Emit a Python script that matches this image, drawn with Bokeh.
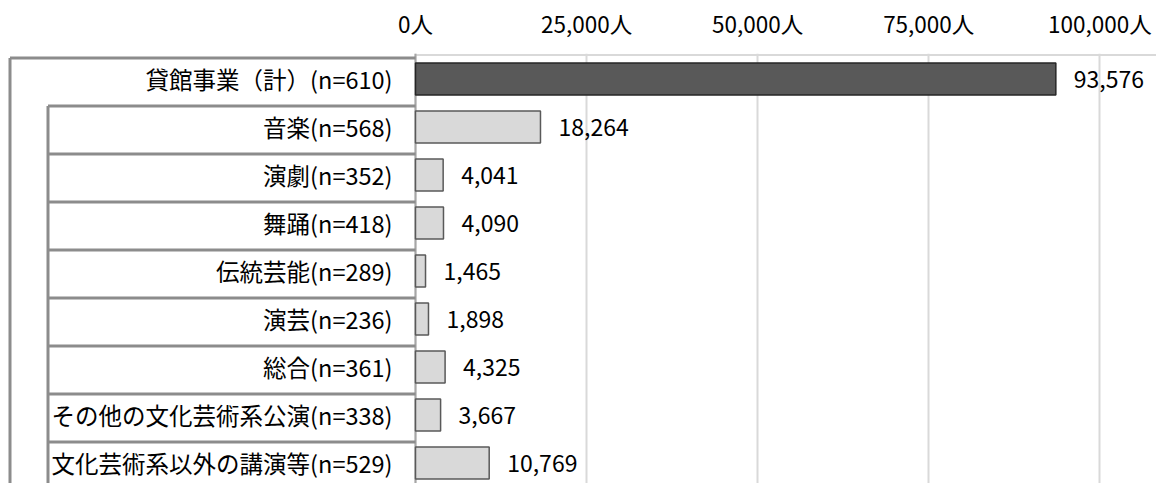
from bokeh.plotting import figure
from bokeh.models import ColumnDataSource, Range1d, FixedTicker
from bokeh.core.properties import value
from bokeh.embed import file_html
from bokeh.resources import INLINE

categories = [
    "貸館事業（計）(n=610)",
    "音楽(n=568)",
    "演劇(n=352)",
    "舞踊(n=418)",
    "伝統芸能(n=289)",
    "演芸(n=236)",
    "総合(n=361)",
    "その他の文化芸術系公演(n=338)",
    "文化芸術系以外の講演等(n=529)",
]
values = [93576, 18264, 4041, 4090, 1465, 1898, 4325, 3667, 10769]
tick_values = [0, 25000, 50000, 75000, 100000]
tick_labels = ["0人", "25,000人", "50,000人", "75,000人", "100,000人"]

FONT = "Noto Sans CJK JP"
W, H = 1156, 483
TOP = 53
ZERO_PX = 415              # frame x of zero
PX_PER_UNIT = 684.3 / 100000
ROW_PX = 48.0

x_start = -ZERO_PX / PX_PER_UNIT
x_end = x_start + W / PX_PER_UNIT
y_top = -0.5 - 1.5 / ROW_PX
y_bottom = y_top + (H - TOP) / ROW_PX

n = len(categories)
idx = list(range(n))
src = ColumnDataSource(dict(
    y=idx,
    v=values,
    cat=categories,
    lbl=[f"{v:,}" for v in values],
    fill=["#595959" if i == 0 else "#d9d9d9" for i in idx],
    line=["#262626" if i == 0 else "#595959" for i in idx],
))

p = figure(width=W, height=H, output_backend="svg", toolbar_location=None,
           x_axis_location="above", y_axis_location=None,
           x_range=Range1d(x_start, x_end), y_range=Range1d(y_bottom, y_top),
           min_border_left=0, min_border_right=0, min_border_top=TOP,
           min_border_bottom=0)
p.outline_line_color = None
p.background_fill_color = "white"
p.border_fill_color = "white"

ax = p.xaxis[0]
ax.ticker = FixedTicker(ticks=tick_values)
ax.major_label_overrides = {t: l for t, l in zip(tick_values, tick_labels)}
ax.axis_line_color = None
ax.major_tick_line_color = None
ax.minor_tick_line_color = None
ax.major_tick_out = 0
ax.major_label_standoff = 15
ax.major_label_text_font = FONT
ax.major_label_text_font_size = "22.5px"
ax.major_label_text_color = "black"

p.xgrid.ticker = FixedTicker(ticks=tick_values)
p.xgrid.grid_line_color = "#d9d9d9"
p.xgrid.grid_line_width = 2
p.ygrid.grid_line_color = None

# top border line of plot area
p.segment(x0=[0], y0=[-0.5], x1=[x_end], y1=[-0.5], line_color="#d9d9d9", line_width=2)
# zero axis line
p.segment(x0=[0], y0=[y_top], x1=[0], y1=[y_bottom], line_color="#a6a6a6", line_width=2)

# label table
off = 3.0 / ROW_PX
outer_x = -(ZERO_PX - 9.5) / PX_PER_UNIT
inner_x = -(ZERO_PX - 47.5) / PX_PER_UNIT
tcol = "#8c8c8c"
p.segment(x0=[outer_x], y0=[-0.5 + off], x1=[0], y1=[-0.5 + off], line_color=tcol, line_width=3)
p.segment(x0=[outer_x], y0=[-0.5 + off], x1=[outer_x], y1=[y_bottom], line_color=tcol, line_width=3)
p.segment(x0=[inner_x], y0=[0.5 + off], x1=[inner_x], y1=[y_bottom], line_color=tcol, line_width=3)
bounds = [i + 0.5 + off for i in idx[:-1]]
p.segment(x0=[inner_x] * len(bounds), y0=bounds, x1=[0] * len(bounds), y1=bounds,
          line_color=tcol, line_width=3)

p.hbar(y="y", left=0, right="v", height=0.667, source=src,
       fill_color="fill", line_color="line", line_width=1.5)

p.text(x=0, y="y", text="cat", source=src, x_offset=-23,
       text_align="right", text_baseline="middle",
       text_font=value(FONT), text_font_size="23.5px", text_color="black")
p.text(x="v", y="y", text="lbl", source=src, x_offset=18,
       text_align="left", text_baseline="middle",
       text_font=value(FONT), text_font_size="23px", text_color="black")

open("out.html", "w").write(file_html(p, INLINE))
